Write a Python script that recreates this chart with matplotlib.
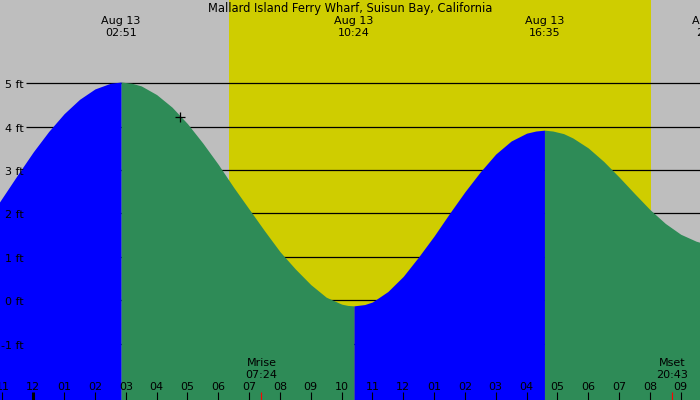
import matplotlib
matplotlib.use("Agg")
import matplotlib.pyplot as plt
import matplotlib.transforms as mtransforms
import numpy as np

# ----------------------
# data (hours from midnight Aug 13, height in ft)
# ----------------------
times_h = [-1.1, -0.5, 0.0, 0.5, 1.0, 1.5, 2.0, 2.5, 2.85, 3.2, 3.5, 4.0, 4.5,
           5.0, 5.5, 6.0, 6.5, 7.0, 7.5, 8.0, 8.5, 9.0, 9.5, 10.0, 10.2, 10.4,
           10.75, 11.0, 11.5, 12.0, 12.5, 13.0, 13.5, 14.0, 14.5, 15.0, 15.5,
           16.0, 16.3, 16.58, 16.85, 17.2, 17.5, 18.0, 18.5, 19.0, 19.5, 20.0,
           20.5, 21.0, 21.5, 21.7]
heights_ft = [2.26, 2.90, 3.42, 3.89, 4.30, 4.63, 4.87, 5.00, 5.03, 5.00, 4.94,
              4.74, 4.45, 4.07, 3.62, 3.13, 2.60, 2.10, 1.60, 1.12, 0.72, 0.36,
              0.07, -0.09, -0.12, -0.13, -0.10, -0.04, 0.20, 0.55, 1.00, 1.48,
              2.00, 2.50, 2.96, 3.37, 3.67, 3.85, 3.90, 3.92, 3.90, 3.84, 3.74,
              3.51, 3.20, 2.84, 2.46, 2.09, 1.77, 1.52, 1.36, 1.32]

ext_times = [2.85, 10.40, 16.58, 22.02]
ext_labels = ["02:51", "10:24", "16:35", "22:01"]

sunrise, sunset = 6.35, 20.03
moon_times = [7.40, 20.72]
moon_labels = ["Mrise\n07:24", "Mset\n20:43"]

level_ft = [-1, 0, 1, 2, 3, 4, 5]
hour_pos = list(range(-1, 22))
hour_labels = ["11", "12", "01", "02", "03", "04", "05", "06", "07", "08", "09",
               "10", "11", "12", "01", "02", "03", "04", "05", "06", "07", "08", "09"]

now_time, now_height = 4.76, 4.23

title = "Mallard Island Ferry Wharf, Suisun Bay, California"

# ----------------------
# figure
# ----------------------
plt.rcParams["font.family"] = ["DejaVu Sans"]
fig = plt.figure(figsize=(7, 4), dpi=100)
ax = fig.add_axes([0, 0, 1, 1])
x0, x1 = -1.08, 21.625
y0, y1 = -2.30, 6.92
ax.set_xlim(x0, x1)
ax.set_ylim(y0, y1)
ax.axis("off")

ax.axvspan(x0, x1, color="#BEBEBE", lw=0, zorder=0)
ax.axvspan(sunrise, sunset, color="#CFCD00", lw=0, zorder=0.5)

ax.hlines(level_ft, -0.237, x1, color="black", lw=0.9, zorder=1)

t = np.array(times_h)
h = np.array(heights_ft)
d = np.sign(np.diff(h))
turns = [0] + [i for i in range(1, len(h) - 1) if d[i - 1] != d[i]] + [len(h) - 1]
for a, b in zip(turns[:-1], turns[1:]):
    col = "#0000FF" if h[b] > h[a] else "#2E8B57"
    ax.fill_between(t[a:b + 1], h[a:b + 1], y0, color=col, lw=0, zorder=2)

px = (y1 - y0) / 400.0  # ft per pixel
for lv in level_ft:
    ax.text(-0.30, lv - 5 * px, f"{lv} ft", ha="right", va="baseline",
            fontsize=8, zorder=5)

trans = mtransforms.blended_transform_factory(ax.transData, ax.transAxes)
ax.text(0.5, 1 - 12 / 400, title, transform=ax.transAxes, ha="center",
        va="baseline", fontsize=8.3, zorder=5)
for et, el in zip(ext_times, ext_labels):
    ax.text(et, 1 - 24 / 400, "Aug 13", transform=trans, ha="center",
            va="baseline", fontsize=8, zorder=5)
    ax.text(et, 1 - 36.5 / 400, el, transform=trans, ha="center",
            va="baseline", fontsize=8, zorder=5)

for hp, hl in zip(hour_pos, hour_labels):
    ax.text(hp, 10 / 400, hl, transform=trans, ha="center", va="baseline",
            fontsize=8, zorder=5)
    ax.plot([hp, hp], [0, 8 / 400], transform=trans, color="black",
            lw=2.2 if hl == "12" and hp % 24 == 0 else 0.8,
            solid_capstyle="butt", zorder=5)

for mt, ml in zip(moon_times, moon_labels):
    top, bot = ml.split("\n")
    ax.text(mt, 1 - 366.5 / 400, top, transform=trans, ha="center",
            va="baseline", fontsize=8, zorder=5)
    ax.text(mt, 1 - 377.5 / 400, bot, transform=trans, ha="center",
            va="baseline", fontsize=8, zorder=5)
    ax.plot([mt, mt], [0, 8 / 400], transform=trans, color="red", lw=0.8,
            solid_capstyle="butt", zorder=5)

ax.plot(now_time, now_height, marker="+", color="black", ms=7, mew=0.9,
        zorder=6)

fig.savefig("out.png", dpi=100)
plt.close(fig)
